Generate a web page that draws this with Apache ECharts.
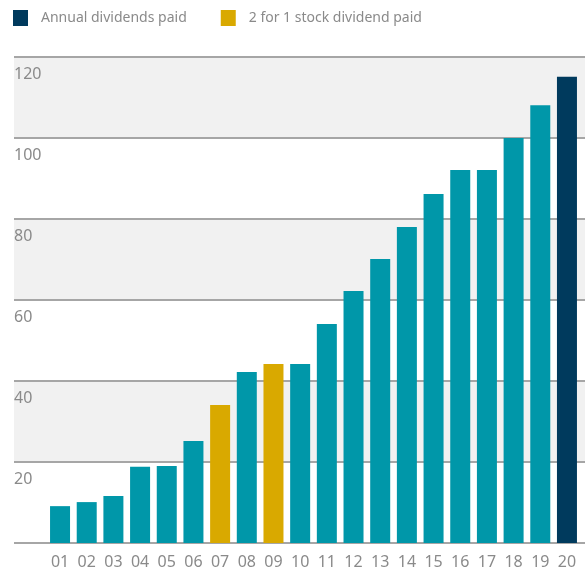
<!DOCTYPE html>
<html><head><meta charset="utf-8">
<script src="https://cdn.jsdelivr.net/npm/echarts@6/dist/echarts.min.js"></script>
<style>html,body{margin:0;padding:0;background:#fff}#c{width:585px;height:574px}</style>
</head><body><div id="c"></div>
<script>
const categories = ['01','02','03','04','05','06','07','08','09','10','11','12','13','14','15','16','17','18','19','20'];
const regularDividends = [9.1,10.1,11.6,18.8,19.0,25.2,null,42.2,null,44.2,54.1,62.2,70.1,78.0,86.2,92.1,92.1,100.0,108.1,null];
const stockDividends = [null,null,null,null,null,null,34.1,null,44.2,null,null,null,null,null,null,null,null,null,null,null];
const annualDividends = [null,null,null,null,null,null,null,null,null,null,null,null,null,null,null,null,null,null,null,115.1];
const yTicks = {min: 0, max: 120, interval: 20};

const fontFam = 'Noto Sans';
const gray = '#8a8a8a';
const toData = a => a.map(v => v === null ? '-' : v);

const chart = echarts.init(document.getElementById('c'), null, {renderer: 'canvas'});
chart.setOption({
  animation: false,
  textStyle: {fontFamily: fontFam},
  legend: {
    left: 13, top: 10, padding: 0, itemWidth: 15, itemHeight: 16, itemGap: 34,
    icon: 'rect',
    textStyle: {color: gray, fontSize: 14, fontFamily: fontFam, padding: [0,0,0,8]},
    data: ['Annual dividends paid', '2 for 1 stock dividend paid']
  },
  grid: [
    {left: 14, right: 0, top: 57, bottom: 31},
    {left: 46.7, right: 4.7, top: 57, bottom: 31}
  ],
  xAxis: [
    {gridIndex: 0, type: 'value', min: 0, max: 1, show: false},
    {gridIndex: 1, type: 'category', data: categories, boundaryGap: true,
     axisLine: {show: false}, axisTick: {show: false},
     axisLabel: {color: gray, fontSize: 16, margin: 11, fontFamily: fontFam}}
  ],
  yAxis: [
    {gridIndex: 0, type: 'value', min: yTicks.min, max: yTicks.max, interval: yTicks.interval,
     axisLine: {show: false}, axisTick: {show: false},
     splitLine: {show: true, lineStyle: {color: '#a6a6a6', width: 2}},
     splitArea: {show: true, areaStyle: {color: ['#ffffff', '#f1f1f1']}},
     axisLabel: {inside: true, showMinLabel: false, showMaxLabel: true, verticalAlign: 'top', align: 'left',
       margin: 0, padding: [9,0,0,0], color: gray, fontSize: 16, fontFamily: fontFam}},
    {gridIndex: 1, type: 'value', min: yTicks.min, max: yTicks.max, interval: yTicks.interval, show: false}
  ],
  series: [
    {name: 'Regular', type: 'bar', xAxisIndex: 1, yAxisIndex: 1, stack: 'a', barWidth: 20,
     itemStyle: {color: '#0097a9'}, data: toData(regularDividends)},
    {name: '2 for 1 stock dividend paid', type: 'bar', xAxisIndex: 1, yAxisIndex: 1, stack: 'a', barWidth: 20,
     itemStyle: {color: '#d9a900'}, data: toData(stockDividends)},
    {name: 'Annual dividends paid', type: 'bar', xAxisIndex: 1, yAxisIndex: 1, stack: 'a', barWidth: 20,
     itemStyle: {color: '#003a5d'}, data: toData(annualDividends)}
  ]
});
</script></body></html>
